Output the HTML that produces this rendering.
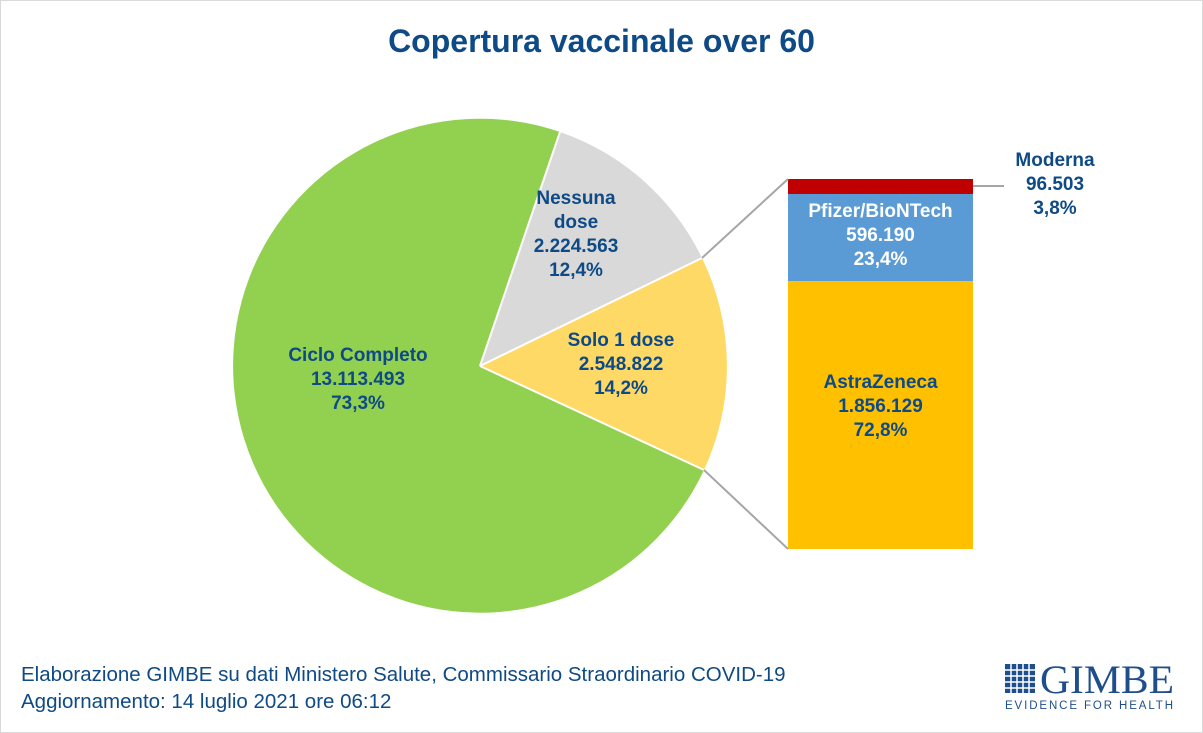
<!DOCTYPE html>
<html><head><meta charset="utf-8"><style>
body{margin:0;background:#fff}
#c{position:relative;width:1201px;height:731px;border:1px solid #d9d9d9;font-family:"Liberation Sans",sans-serif;overflow:hidden}
.t{position:absolute;text-align:center;color:#0e4a85;font-weight:bold;font-size:19px;line-height:24px;white-space:nowrap}
</style></head><body><div id="c">
<svg width="1201" height="731" style="position:absolute;left:0;top:0">
<path d="M479,365 L559,131 A247,247 0 1 0 703,469 Z" fill="#92d050"/>
<path d="M479,365 L701,257 A247,247 0 0 0 559,131 Z" fill="#d9d9d9"/>
<path d="M479,365 L703,469 A247,247 0 0 0 701,257 Z" fill="#ffd966"/>
<line x1="559" y1="131" x2="479" y2="365" stroke="#fff" stroke-width="2"/>
<line x1="701" y1="257" x2="479" y2="365" stroke="#fff" stroke-width="2"/>
<line x1="703" y1="469" x2="479" y2="365" stroke="#fff" stroke-width="2"/>
<rect x="787" y="178" width="185" height="15" fill="#c00000"/>
<rect x="787" y="193" width="185" height="87" fill="#5b9bd5"/>
<rect x="787" y="280" width="185" height="268" fill="#ffc000"/>
<line x1="701" y1="257" x2="787" y2="178" stroke="#a6a6a6" stroke-width="2"/>
<line x1="703" y1="469" x2="787" y2="548" stroke="#a6a6a6" stroke-width="2"/>
<line x1="972" y1="185" x2="1003" y2="185" stroke="#a6a6a6" stroke-width="2"/>
<g fill="#1f4e8c">
<rect x="1004" y="663" width="30" height="29"/>
</g>
<g stroke="#fff" stroke-width="1.5">
<line x1="1004" y1="669" x2="1034" y2="669"/><line x1="1004" y1="675" x2="1034" y2="675"/><line x1="1004" y1="681" x2="1034" y2="681"/><line x1="1004" y1="687" x2="1034" y2="687"/>
<line x1="1010" y1="663" x2="1010" y2="692"/><line x1="1016" y1="663" x2="1016" y2="692"/><line x1="1022" y1="663" x2="1022" y2="692"/><line x1="1028" y1="663" x2="1028" y2="692"/>
</g>
<text x="1039" y="692" font-family="Liberation Serif,serif" font-size="40" fill="#1f4e8c" textLength="134" lengthAdjust="spacingAndGlyphs">GIMBE</text>
<text x="1004" y="708" font-family="Liberation Sans,sans-serif" font-size="11.5" fill="#1f4e8c" textLength="168" lengthAdjust="spacing">EVIDENCE FOR HEALTH</text>
</svg>
<div class="t" style="left:0;width:1201px;top:22px;font-size:32px;line-height:36px;color:#0e4a85">Copertura vaccinale over 60</div>
<div class="t" style="left:257px;width:200px;top:343px">Ciclo Completo<br>13.113.493<br>73,3%</div>
<div class="t" style="left:520px;width:110px;top:186px">Nessuna<br>dose<br>2.224.563<br>12,4%</div>
<div class="t" style="left:540px;width:160px;top:328px">Solo 1 dose<br>2.548.822<br>14,2%</div>
<div class="t" style="left:787px;width:185px;top:370px">AstraZeneca<br>1.856.129<br>72,8%</div>
<div class="t" style="left:787px;width:185px;top:199px;color:#fff">Pfizer/BioNTech<br>596.190<br>23,4%</div>
<div class="t" style="left:994px;width:120px;top:148px">Moderna<br>96.503<br>3,8%</div>
<div style="position:absolute;left:20px;top:660px;font-size:20.5px;line-height:27px;color:#0e4a85;white-space:nowrap">Elaborazione GIMBE su dati Ministero Salute, Commissario Straordinario COVID-19<br>Aggiornamento: 14 luglio 2021 ore 06:12</div>
</div></body></html>
